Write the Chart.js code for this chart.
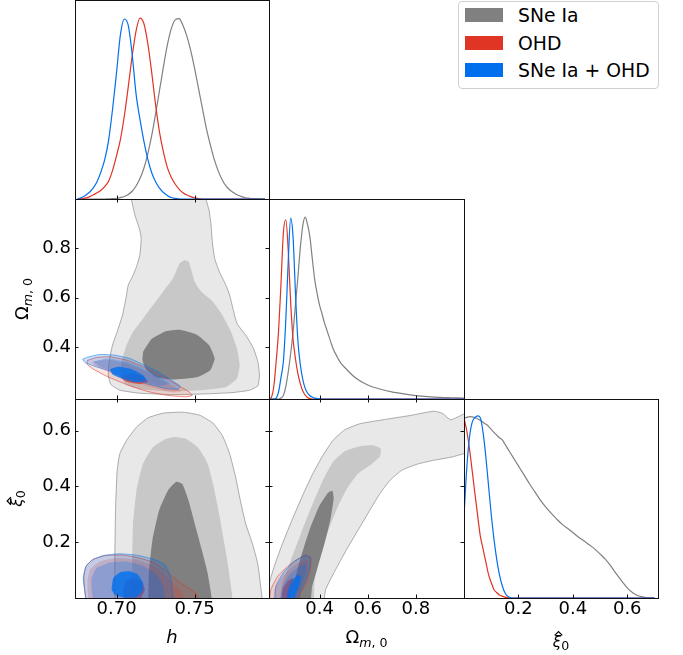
<!DOCTYPE html>
<html>
<head>
<meta charset="utf-8">
<script src="https://cdn.jsdelivr.net/npm/chart.js@4.4.1/dist/chart.umd.min.js"></script>
<style>
body { margin: 0; background: #fff; }
#fig { position: relative; width: 683px; height: 655px; font-family: "DejaVu Sans", sans-serif; }
#fig canvas { position: absolute; left: 0; top: 0; }
#legend { position: absolute; left: 458px; top: 1px; width: 201px; height: 88px; box-sizing: border-box;
  border: 1px solid #d0d0d0; border-radius: 4px; background: #fff; }
.patch { position: absolute; left: 465px; width: 38px; height: 14px; }
.ltext { position: absolute; left: 518px; font-size: 18.8px; line-height: 18px; color: #000; white-space: nowrap; }
</style>
</head>
<body>
<div id="fig">
  <div id="legend"></div>
  <div class="patch" style="top:8px;background:#808080"></div>
  <div class="ltext" style="top:7px">SNe Ia</div>
  <div class="patch" style="top:36px;background:#E03424"></div>
  <div class="ltext" style="top:34.5px">OHD</div>
  <div class="patch" style="top:63px;background:#006FED"></div>
  <div class="ltext" style="top:62px">SNe Ia + OHD</div>
</div>
<script>
// axis ranges + tick values
const hRange = [0.6734, 0.7976];
const omRange = [0.19, 1.0];
const xiRange = [0, 0.713];
const hTicks = [0.70, 0.75];
const omTicks = [0.4, 0.6, 0.8];
const xiTicks = [0.2, 0.4, 0.6];

// 1D marginals (peak normalised to 1)
const hGrid = [0.675,0.6775,0.68,0.6825,0.685,0.6875,0.69,0.6925,0.695,0.6975,0.70,0.7025,0.705,0.7075,0.71,0.7125,0.715,0.7175,0.72,0.7225,0.725,0.7275,0.73,0.7325,0.735,0.7375,0.74,0.7425,0.745,0.7475,0.75,0.7525,0.755,0.7575,0.76,0.7625,0.765,0.7675,0.77,0.7725,0.775,0.7775,0.78,0.7825,0.785,0.7875,0.79,0.7925,0.795];
const hSNe = [0,0,0,0,0,0,0,0,0.001,0.002,0.004,0.008,0.014,0.025,0.043,0.072,0.113,0.17,0.25,0.35,0.47,0.60,0.73,0.85,0.94,0.99,0.997,0.96,0.90,0.82,0.72,0.61,0.50,0.39,0.30,0.22,0.157,0.108,0.072,0.05,0.035,0.022,0.013,0.007,0.004,0.002,0.001,0,0];
const hOHD = [0,0.001,0.005,0.012,0.022,0.034,0.048,0.07,0.10,0.16,0.24,0.33,0.46,0.62,0.79,0.93,1.0,0.97,0.86,0.70,0.52,0.37,0.26,0.175,0.12,0.083,0.055,0.035,0.022,0.013,0.006,0.002,0,0,0,0,0,0,0,0,0,0,0,0,0,0,0,0,0];
const hJoint = [0,0.008,0.02,0.036,0.06,0.095,0.15,0.22,0.33,0.50,0.70,0.91,0.995,0.96,0.80,0.58,0.44,0.32,0.22,0.145,0.095,0.06,0.036,0.02,0.008,0.003,0.001,0,0,0,0,0,0,0,0,0,0,0,0,0,0,0,0,0,0,0,0,0,0];

const omGrid = [0.19,0.20,0.21,0.22,0.23,0.24,0.25,0.26,0.27,0.28,0.29,0.30,0.31,0.32,0.33,0.34,0.35,0.36,0.37,0.38,0.39,0.40,0.41,0.42,0.43,0.44,0.45,0.46,0.47,0.48,0.49,0.50,0.55,0.60,0.65,0.70,0.75,0.80,0.85,0.90,0.95,1.00];
const omSNe = [0,0,0,0,0,0.005,0.02,0.07,0.15,0.25,0.37,0.52,0.67,0.83,0.95,1.0,0.96,0.89,0.77,0.655,0.58,0.516,0.47,0.42,0.38,0.34,0.30,0.265,0.24,0.215,0.195,0.18,0.115,0.077,0.055,0.039,0.028,0.019,0.013,0.009,0.007,0.005];
const omOHD = [0.001,0.01,0.07,0.21,0.38,0.64,0.92,0.986,0.815,0.53,0.33,0.22,0.14,0.085,0.045,0.022,0.008,0.002,0,0,0,0,0,0,0,0,0,0,0,0,0,0,0,0,0,0,0,0,0,0,0,0];
const omJoint = [0,0,0,0.005,0.04,0.12,0.21,0.44,0.76,0.995,0.89,0.58,0.32,0.19,0.11,0.06,0.033,0.018,0.01,0.005,0.002,0.001,0,0,0,0,0,0,0,0,0,0,0,0,0,0,0,0,0,0,0,0];

const xiGrid = [0,0.01,0.02,0.03,0.04,0.05,0.06,0.07,0.08,0.09,0.10,0.11,0.12,0.13,0.14,0.15,0.16,0.17,0.18,0.19,0.20,0.22,0.24,0.26,0.28,0.30,0.32,0.34,0.36,0.38,0.40,0.42,0.44,0.46,0.48,0.50,0.52,0.54,0.56,0.58,0.60,0.62,0.64,0.66,0.68,0.70];
const xiSNe = [0.987,0.992,0.996,0.995,0.99,0.985,0.975,0.965,0.955,0.943,0.926,0.91,0.895,0.88,0.87,0.846,0.822,0.798,0.774,0.75,0.726,0.678,0.629,0.584,0.539,0.50,0.466,0.435,0.406,0.383,0.36,0.335,0.314,0.292,0.27,0.242,0.212,0.175,0.132,0.093,0.056,0.029,0.012,0.005,0.001,0];
const xiOHD = [0.99,0.92,0.82,0.70,0.575,0.455,0.34,0.27,0.20,0.13,0.085,0.047,0.03,0.017,0.01,0.005,0.002,0,0,0,0,0,0,0,0,0,0,0,0,0,0,0,0,0,0,0,0,0,0,0,0,0,0,0,0,0];
const xiJoint = [0.45,0.71,0.88,0.965,0.99,1.0,0.99,0.91,0.78,0.62,0.46,0.325,0.215,0.13,0.07,0.03,0.01,0.003,0,0,0,0,0,0,0,0,0,0,0,0,0,0,0,0,0,0,0,0,0,0,0,0,0,0,0,0];

// 2D credible regions, [x, y] vertices; 3 = outer, 2 = middle, 1 = inner
const hOmSNe3 = [[0.7081,1.05],[0.7096,0.9964],[0.7117,0.9356],[0.7145,0.8815],[0.7158,0.8409],[0.7149,0.7733],[0.7128,0.7260],[0.7102,0.6854],[0.7075,0.6516],[0.7060,0.5975],[0.7038,0.5299],[0.7004,0.4623],[0.6974,0.4082],[0.6953,0.3405],[0.6947,0.2865],[0.6964,0.2486],[0.7021,0.2256],[0.7149,0.2134],[0.7362,0.2080],[0.7575,0.2107],[0.7745,0.2161],[0.7852,0.2256],[0.7905,0.2432],[0.7915,0.2865],[0.7905,0.3405],[0.7877,0.3946],[0.7830,0.4460],[0.7771,0.4961],[0.7745,0.5569],[0.7724,0.6110],[0.7698,0.6543],[0.7656,0.7084],[0.7628,0.7598],[0.7613,0.8274],[0.7605,0.8950],[0.7592,0.9558],[0.7571,1.0032],[0.7565,1.05]];
const hOmSNe2 = [[0.7436,0.7530],[0.7404,0.7395],[0.7362,0.6786],[0.7298,0.6245],[0.7234,0.5705],[0.7170,0.5164],[0.7106,0.4623],[0.7064,0.4082],[0.7032,0.3405],[0.7028,0.2865],[0.7060,0.2486],[0.7149,0.2297],[0.7319,0.2216],[0.7532,0.2256],[0.7702,0.2391],[0.7771,0.2729],[0.7788,0.3270],[0.7771,0.3946],[0.7728,0.4690],[0.7671,0.5366],[0.7607,0.5907],[0.7543,0.6245],[0.7500,0.6651],[0.7479,0.7124],[0.7462,0.7462]];
const hOmSNe1 = [[0.7170,0.3811],[0.7224,0.4325],[0.7319,0.4649],[0.7404,0.4704],[0.7511,0.4514],[0.7592,0.4082],[0.7628,0.3541],[0.7600,0.3067],[0.7515,0.2783],[0.7362,0.2689],[0.7256,0.2783],[0.7188,0.3108],[0.7166,0.3473]];
const hOmOHD3 = [[0.6813,0.3459],[0.6872,0.3581],[0.6957,0.3608],[0.7064,0.3473],[0.7170,0.3203],[0.7277,0.2865],[0.7383,0.2486],[0.7458,0.2216],[0.7485,0.2053],[0.7447,0.1986],[0.7319,0.2053],[0.7192,0.2216],[0.7064,0.2486],[0.6936,0.2824],[0.6851,0.3108],[0.6813,0.3297]];
const hOmOHD2 = [[0.6840,0.3405],[0.6936,0.3500],[0.7064,0.3338],[0.7192,0.3000],[0.7319,0.2567],[0.7415,0.2216],[0.7362,0.2162],[0.7213,0.2392],[0.7064,0.2730],[0.6936,0.3027],[0.6862,0.3243]];
const hOmOHD1 = [[0.7021,0.2797],[0.7096,0.2932],[0.7170,0.2797],[0.7202,0.2594],[0.7149,0.2499],[0.7064,0.2594]];
const hOmJoint3 = [[0.6783,0.3514],[0.6813,0.3595],[0.6894,0.3703],[0.6989,0.3676],[0.7085,0.3541],[0.7170,0.3297],[0.7266,0.3000],[0.7351,0.2662],[0.7405,0.2432],[0.7394,0.2297],[0.7319,0.2324],[0.7213,0.2486],[0.7085,0.2730],[0.6958,0.3027],[0.6851,0.3243],[0.6798,0.3378]];
const hOmJoint2 = [[0.6851,0.3405],[0.6936,0.3541],[0.7064,0.3405],[0.7170,0.3135],[0.7277,0.2797],[0.7341,0.2527],[0.7277,0.2432],[0.7149,0.2648],[0.7000,0.2973],[0.6894,0.3203]];
const hOmJoint1 = [[0.6958,0.3108],[0.7011,0.3203],[0.7096,0.3108],[0.7170,0.2865],[0.7192,0.2648],[0.7128,0.2567],[0.7043,0.2702],[0.6975,0.2892]];

const hXiSNe3 = [[0.6989,-0.05],[0.6989,0.1489],[0.6994,0.3271],[0.7004,0.4578],[0.7021,0.5172],[0.7064,0.5648],[0.7128,0.6123],[0.7202,0.6456],[0.7298,0.6622],[0.7426,0.6658],[0.7532,0.6551],[0.7617,0.6266],[0.7677,0.5826],[0.7724,0.5172],[0.7762,0.4340],[0.7792,0.3509],[0.7826,0.2677],[0.7869,0.1964],[0.7903,0.1251],[0.7920,0.0538],[0.7926,-0.05]];
const hXiSNe2 = [[0.7096,-0.05],[0.7100,0.1251],[0.7106,0.2677],[0.7128,0.3865],[0.7170,0.4816],[0.7234,0.5410],[0.7309,0.5683],[0.7373,0.5766],[0.7447,0.5695],[0.7528,0.5350],[0.7585,0.4792],[0.7622,0.3984],[0.7660,0.2914],[0.7694,0.1845],[0.7724,0.0776],[0.7735,-0.05]];
const hXiSNe1 = [[0.7202,-0.05],[0.7207,0.0894],[0.7230,0.2083],[0.7273,0.3152],[0.7330,0.3865],[0.7383,0.4162],[0.7422,0.4079],[0.7460,0.3509],[0.7500,0.2677],[0.7543,0.1786],[0.7583,0.0894],[0.7607,-0.05]];
const hXiOHD3 = [[0.6813,-0.05],[0.6796,0.0300],[0.6791,0.0776],[0.6804,0.1132],[0.6851,0.1393],[0.6936,0.1524],[0.7043,0.1536],[0.7149,0.1429],[0.7245,0.1251],[0.7319,0.0954],[0.7383,0.0657],[0.7458,0.0360],[0.7511,0.0158],[0.7532,-0.05]];
const hXiOHD2 = [[0.6826,-0.05],[0.6813,0.0538],[0.6830,0.1013],[0.6894,0.1310],[0.7000,0.1429],[0.7128,0.1370],[0.7234,0.1156],[0.7319,0.0776],[0.7383,0.0419],[0.7426,0.0122],[0.7436,-0.05]];
const hXiOHD1 = [[0.7047,-0.02],[0.7043,0.0300],[0.7060,0.0597],[0.7106,0.0716],[0.7160,0.0597],[0.7181,0.0300],[0.7160,0.0039],[0.7140,-0.02]];
const hXiJoint3 = [[0.6819,-0.05],[0.6798,0.0181],[0.6787,0.0716],[0.6804,0.1132],[0.6840,0.1346],[0.6915,0.1524],[0.7021,0.1584],[0.7128,0.1536],[0.7234,0.1393],[0.7309,0.1191],[0.7345,0.0776],[0.7356,0.0300],[0.7358,-0.05]];
const hXiJoint2 = [[0.6862,-0.05],[0.6840,0.0300],[0.6840,0.0716],[0.6872,0.1073],[0.6957,0.1275],[0.7064,0.1310],[0.7170,0.1156],[0.7255,0.0835],[0.7298,0.0419],[0.7309,-0.05]];
const hXiJoint1 = [[0.6968,0.0300],[0.6979,0.0716],[0.7021,0.0918],[0.7085,0.0954],[0.7138,0.0835],[0.7170,0.0538],[0.7166,0.0241],[0.7128,0.0039],[0.7043,0.0015],[0.6989,0.0122]];

const omXiSNe3 = [[0.1769,-0.05],[0.1881,0.0419],[0.2118,0.1132],[0.2466,0.1964],[0.2885,0.2855],[0.3303,0.3687],[0.3722,0.4459],[0.4140,0.5113],[0.4558,0.5648],[0.5046,0.6028],[0.5674,0.6242],[0.6790,0.6408],[0.7766,0.6539],[0.8742,0.6693],[0.9091,0.6622],[0.9440,0.6384],[0.9719,0.6479],[1.0012,0.6598],[1.05,0.6717],[1.05,0.5172],[1.0012,0.5172],[0.9510,0.5053],[0.8742,0.4935],[0.8045,0.4792],[0.7418,0.4578],[0.6929,0.4222],[0.6511,0.3746],[0.6093,0.3152],[0.5604,0.2439],[0.5116,0.1726],[0.4628,0.0954],[0.4252,0.0300],[0.4070,-0.05]];
const omXiSNe2 = [[0.2257,-0.05],[0.2466,0.0538],[0.2815,0.1370],[0.3233,0.2320],[0.3694,0.3330],[0.4140,0.4222],[0.4558,0.4875],[0.5046,0.5255],[0.5674,0.5434],[0.6232,0.5469],[0.6539,0.5350],[0.6511,0.5077],[0.6162,0.4792],[0.5604,0.4459],[0.5144,0.3924],[0.4726,0.3211],[0.4349,0.2380],[0.4028,0.1489],[0.3791,0.0597],[0.3694,-0.05]];
const omXiSNe1 = [[0.2815,-0.05],[0.2954,0.0538],[0.3233,0.1489],[0.3582,0.2439],[0.3973,0.3271],[0.4349,0.3770],[0.4530,0.3841],[0.4586,0.3568],[0.4447,0.2796],[0.4210,0.1964],[0.3931,0.1132],[0.3694,0.0419],[0.3554,-0.05]];
const omXiOHD3 = [[0.1881,-0.05],[0.1978,0.0300],[0.2257,0.0776],[0.2675,0.1132],[0.3094,0.1393],[0.3443,0.1536],[0.3652,0.1429],[0.3610,0.1013],[0.3443,0.0538],[0.3192,0.0122],[0.3094,-0.05]];
const omXiOHD2 = [[0.2048,-0.05],[0.2118,0.0300],[0.2466,0.0776],[0.2885,0.1132],[0.3303,0.1346],[0.3512,0.1310],[0.3443,0.0894],[0.3233,0.0419],[0.3052,-0.05]];
const omXiOHD1 = [[0.2397,-0.05],[0.2466,0.0300],[0.2676,0.0597],[0.2885,0.0716],[0.2954,0.0478],[0.2815,0.0003],[0.2745,-0.05]];
const omXiJoint3 = [[0.2118,-0.05],[0.2187,0.0419],[0.2536,0.0954],[0.2954,0.1310],[0.3373,0.1512],[0.3610,0.1465],[0.3582,0.1073],[0.3401,0.0597],[0.3164,0.0158],[0.3052,-0.05]];
const omXiJoint2 = [[0.2355,-0.05],[0.2438,0.0360],[0.2745,0.0835],[0.3164,0.1156],[0.3443,0.1227],[0.3443,0.0894],[0.3233,0.0419],[0.3024,0.0003],[0.2954,-0.05]];
const omXiJoint1 = [[0.2606,-0.05],[0.2676,0.0241],[0.2857,0.0597],[0.3094,0.0835],[0.3233,0.0776],[0.3136,0.0419],[0.2954,0.0003],[0.2885,-0.05]];

// colours
const cGray = '#808080', cRed = '#E03424', cBlue = '#006FED';
const grayFill = ['#808080', '#c8c8c8', '#e8e8e8'];   // inner, middle, outer
const redFill = ['rgba(224,52,36,0.75)', 'rgba(224,52,36,0.2)', 'rgba(224,52,36,0.13)'];
const blueFill = ['rgba(0,111,237,0.8)', 'rgba(0,111,237,0.26)', 'rgba(0,111,237,0.22)'];

// panel grid in pixels
const W = 683, H = 655;
const colEdges = [75, 269, 464, 658];
const rowEdges = [0, 199, 399, 598];
const FONT = 'DejaVu Sans';

// label pieces: fs = size factor, dy = baseline shift
const hTitle = [{t: 'h', it: true}];
const omTitle = [{t: '\u03A9'}, {t: 'm', it: true, fs: 0.7, dy: 3.6}, {t: ', 0', fs: 0.7, dy: 3.6}];
const xiTitle = [{t: '\u03BE', it: true, fs: 0.85, hat: true}, {t: '0', fs: 0.7, dy: 3}];

function drawMath(ctx, parts, size) {
  let items = parts.map(p => {
    let fs = size * (p.fs || 1);
    let font = (p.it ? 'italic ' : '') + fs + 'px "' + FONT + '"';
    ctx.font = font;
    return {p: p, fs: fs, font: font, w: ctx.measureText(p.t).width};
  });
  let total = items.reduce((s, i) => s + i.w, 0);
  let x = -total / 2;
  ctx.textAlign = 'left';
  ctx.textBaseline = 'alphabetic';
  items.forEach(i => {
    ctx.font = i.font;
    ctx.fillText(i.p.t, x, i.p.dy || 0);
    if (i.p.hat) {
      // circumflex accent as a small caret above the glyph
      let cx = x + i.w / 2 + 1.5;
      let top = i.fs * 0.76;
      ctx.save();
      ctx.strokeStyle = '#000';
      ctx.lineWidth = 1.2;
      ctx.beginPath();
      ctx.moveTo(cx - 3.8, -top + 0.5);
      ctx.lineTo(cx, -top - 3.2);
      ctx.lineTo(cx + 3.8, -top + 0.5);
      ctx.stroke();
      ctx.restore();
    }
    x += i.w;
  });
}

// frame, inward ticks and axis titles
const framePlugin = {
  id: 'frame',
  afterDraw(chart, args, opts) {
    const {ctx, chartArea: a, scales} = chart;
    ctx.save();
    ctx.strokeStyle = '#111';
    ctx.lineWidth = 1;
    ctx.strokeRect(a.left + 0.5, a.top + 0.5, a.right - a.left, a.bottom - a.top);
    const L = 3.5;
    ctx.beginPath();
    (opts.xTicks || []).forEach(v => {
      let px = Math.round(scales.x.getPixelForValue(v)) + 0.5;
      ctx.moveTo(px, a.bottom); ctx.lineTo(px, a.bottom - L);
      if (opts.allSides) { ctx.moveTo(px, a.top); ctx.lineTo(px, a.top + L); }
    });
    (opts.yTicks || []).forEach(v => {
      let py = Math.round(scales.y.getPixelForValue(v)) + 0.5;
      ctx.moveTo(a.left, py); ctx.lineTo(a.left + L, py);
      ctx.moveTo(a.right, py); ctx.lineTo(a.right - L, py);
    });
    ctx.stroke();
    ctx.fillStyle = '#000';
    if (opts.xTitle) {
      ctx.save();
      ctx.translate((a.left + a.right) / 2, a.bottom + opts.xTitle.dy);
      drawMath(ctx, opts.xTitle.parts, 18);
      ctx.restore();
    }
    if (opts.yTitle) {
      ctx.save();
      ctx.translate(a.left - opts.yTitle.dx, (a.top + a.bottom) / 2);
      ctx.rotate(-Math.PI / 2);
      drawMath(ctx, opts.yTitle.parts, 18);
      ctx.restore();
    }
    ctx.restore();
  }
};

function axis(range, ticks, dec, size, vertical) {
  return {
    type: 'linear', min: range[0], max: range[1],
    display: size > 0,
    afterBuildTicks: s => { s.ticks = (ticks || []).map(v => ({value: v})); },
    afterFit: s => { if (vertical) s.width = size; else s.height = size; },
    grid: {display: false, drawTicks: false},
    border: {display: false},
    ticks: {color: '#000', font: {family: FONT, size: 18}, padding: vertical ? 4 : 1,
      autoSkip: false, maxRotation: 0, callback: v => v.toFixed(dec)}
  };
}

function curve(xs, ys, color) {
  return {data: xs.map((x, i) => ({x: x, y: ys[i]})), borderColor: color, borderWidth: 1.2,
    fill: false, pointRadius: 0, cubicInterpolationMode: 'monotone'};
}

function region(pts, fillColor, lineColor) {
  let d = pts.map(p => ({x: p[0], y: p[1]}));
  d.push(d[0]);
  return {data: d, backgroundColor: fillColor, borderColor: lineColor || 'rgba(0,0,0,0)',
    borderWidth: lineColor ? 0.9 : 0, fill: 'shape', pointRadius: 0, tension: 0.15};
}

function contours(sne, ohd, joint) {
  return [
    region(sne[0], grayFill[2], 'rgba(128,128,128,0.7)'),
    region(sne[1], grayFill[1]),
    region(sne[2], grayFill[0]),
    region(ohd[0], redFill[2], 'rgba(224,52,36,0.6)'),
    region(ohd[1], redFill[1]),
    region(ohd[2], redFill[0]),
    region(joint[0], blueFill[2], 'rgba(0,111,237,0.55)'),
    region(joint[1], blueFill[1]),
    region(joint[2], blueFill[0])
  ];
}

const fig = document.getElementById('fig');
const legendEl = document.getElementById('legend');

function panel(p) {
  let cv = document.createElement('canvas');
  cv.width = W; cv.height = H;
  fig.insertBefore(cv, legendEl);
  let ySize = p.yLabels ? colEdges[p.col] : 0;
  let xSize = p.xLabels ? H - rowEdges[p.row + 1] : 0;
  // draw order: first in list at the bottom
  p.datasets.forEach((d, i) => { d.order = p.datasets.length - i; });
  new Chart(cv, {
    type: 'line',
    data: {datasets: p.datasets},
    options: {
      responsive: false, animation: false, devicePixelRatio: 1,
      layout: {padding: {
        left: colEdges[p.col] - ySize, right: W - colEdges[p.col + 1],
        top: rowEdges[p.row], bottom: H - rowEdges[p.row + 1] - xSize}},
      elements: {line: {capBezierPoints: false}, point: {radius: 0}},
      plugins: {legend: {display: false}, tooltip: {enabled: false}, frame: p.frame},
      scales: {
        x: axis(p.xRange, p.xTicks, p.xDec, xSize, false),
        y: axis(p.yRange, p.yTicks, p.yDec, ySize, true)
      }
    },
    plugins: [framePlugin]
  });
}

// diagonal
panel({col: 0, row: 0, xRange: hRange, yRange: [0, 1.10], xTicks: hTicks, xDec: 2,
  datasets: [curve(hGrid, hSNe, cGray), curve(hGrid, hOHD, cRed), curve(hGrid, hJoint, cBlue)],
  frame: {xTicks: hTicks}});
panel({col: 1, row: 1, xRange: omRange, yRange: [0, 1.10], xTicks: omTicks, xDec: 1,
  datasets: [curve(omGrid, omSNe, cGray), curve(omGrid, omOHD, cRed), curve(omGrid, omJoint, cBlue)],
  frame: {xTicks: omTicks}});
panel({col: 2, row: 2, xRange: xiRange, yRange: [0, 1.093], xTicks: xiTicks, xDec: 1, xLabels: true,
  datasets: [curve(xiGrid, xiSNe, cGray), curve(xiGrid, xiOHD, cRed), curve(xiGrid, xiJoint, cBlue)],
  frame: {xTicks: xiTicks, xTitle: {parts: xiTitle, dy: 48.5}}});

// off-diagonal
panel({col: 0, row: 1, xRange: hRange, yRange: omRange, xTicks: hTicks, yTicks: omTicks, xDec: 2, yDec: 1, yLabels: true,
  datasets: contours([hOmSNe3, hOmSNe2, hOmSNe1], [hOmOHD3, hOmOHD2, hOmOHD1], [hOmJoint3, hOmJoint2, hOmJoint1]),
  frame: {xTicks: hTicks, yTicks: omTicks, allSides: true, yTitle: {parts: omTitle, dx: 47}}});
panel({col: 0, row: 2, xRange: hRange, yRange: xiRange, xTicks: hTicks, yTicks: xiTicks, xDec: 2, yDec: 1, xLabels: true, yLabels: true,
  datasets: contours([hXiSNe3, hXiSNe2, hXiSNe1], [hXiOHD3, hXiOHD2, hXiOHD1], [hXiJoint3, hXiJoint2, hXiJoint1]),
  frame: {xTicks: hTicks, yTicks: xiTicks, allSides: true, xTitle: {parts: hTitle, dy: 45}, yTitle: {parts: xiTitle, dx: 53}}});
panel({col: 1, row: 2, xRange: omRange, yRange: xiRange, xTicks: omTicks, yTicks: xiTicks, xDec: 1, yDec: 1, xLabels: true,
  datasets: contours([omXiSNe3, omXiSNe2, omXiSNe1], [omXiOHD3, omXiOHD2, omXiOHD1], [omXiJoint3, omXiJoint2, omXiJoint1]),
  frame: {xTicks: omTicks, yTicks: xiTicks, allSides: true, xTitle: {parts: omTitle, dy: 45}}});
</script>
</body>
</html>
